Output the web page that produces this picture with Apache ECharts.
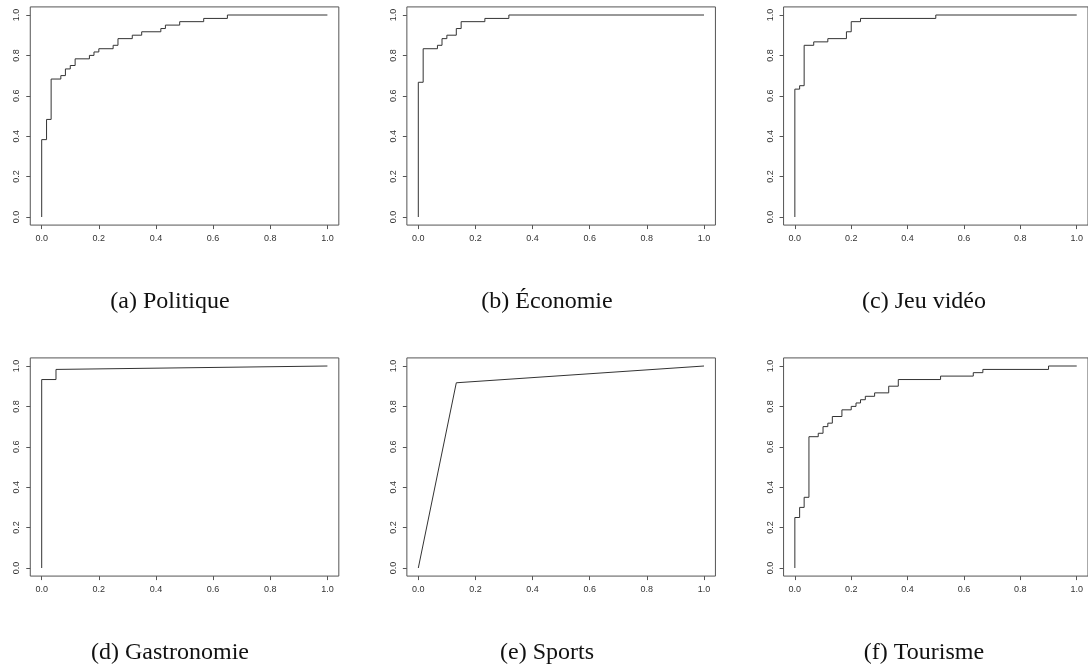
<!DOCTYPE html>
<html>
<head>
<meta charset="utf-8">
<title>Courbes ROC par catégorie</title>
<script src="https://cdn.jsdelivr.net/npm/echarts@6/dist/echarts.min.js"></script>
<style>
  html, body { margin: 0; padding: 0; background: #ffffff; }
  #chart { width: 1088px; height: 669px; }
</style>
</head>
<body>
<div id="chart"></div>
<script>
// ROC curves: false positive rate (fpr) vs true positive rate (tpr), one panel per category
const captions = ['(a) Politique', '(b) Économie', '(c) Jeu vidéo', '(d) Gastronomie', '(e) Sports', '(f) Tourisme'];

const fprPolitique = [0, 0, 0.017, 0.017, 0.033, 0.033, 0.067, 0.067, 0.083, 0.083, 0.1, 0.1, 0.117, 0.117, 0.167, 0.167, 0.183, 0.183, 0.2, 0.2, 0.25, 0.25, 0.267, 0.267, 0.317, 0.317, 0.35, 0.35, 0.417, 0.417, 0.433, 0.433, 0.483, 0.483, 0.567, 0.567, 0.65, 0.65, 1];
const tprPolitique = [0, 0.383, 0.383, 0.483, 0.483, 0.683, 0.683, 0.7, 0.7, 0.733, 0.733, 0.75, 0.75, 0.783, 0.783, 0.8, 0.8, 0.817, 0.817, 0.833, 0.833, 0.85, 0.85, 0.883, 0.883, 0.9, 0.9, 0.917, 0.917, 0.933, 0.933, 0.95, 0.95, 0.967, 0.967, 0.983, 0.983, 1, 1];

const fprEconomie = [0, 0, 0.017, 0.017, 0.067, 0.067, 0.083, 0.083, 0.1, 0.1, 0.133, 0.133, 0.15, 0.15, 0.233, 0.233, 0.317, 0.317, 1];
const tprEconomie = [0, 0.667, 0.667, 0.833, 0.833, 0.85, 0.85, 0.883, 0.883, 0.9, 0.9, 0.933, 0.933, 0.967, 0.967, 0.983, 0.983, 1, 1];

const fprJeuVideo = [0, 0, 0.017, 0.017, 0.033, 0.033, 0.067, 0.067, 0.117, 0.117, 0.183, 0.183, 0.2, 0.2, 0.233, 0.233, 0.5, 0.5, 1];
const tprJeuVideo = [0, 0.633, 0.633, 0.65, 0.65, 0.85, 0.85, 0.867, 0.867, 0.883, 0.883, 0.917, 0.917, 0.967, 0.967, 0.983, 0.983, 1, 1];

const fprGastronomie = [0, 0, 0.05, 0.05, 1];
const tprGastronomie = [0, 0.933, 0.933, 0.983, 1];

const fprSports = [0, 0.133, 1];
const tprSports = [0, 0.917, 1];

const fprTourisme = [0, 0, 0.017, 0.017, 0.033, 0.033, 0.05, 0.05, 0.083, 0.083, 0.1, 0.1, 0.117, 0.117, 0.133, 0.133, 0.167, 0.167, 0.2, 0.2, 0.217, 0.217, 0.233, 0.233, 0.25, 0.25, 0.283, 0.283, 0.333, 0.333, 0.367, 0.367, 0.517, 0.517, 0.633, 0.633, 0.667, 0.667, 0.9, 0.9, 1];
const tprTourisme = [0, 0.25, 0.25, 0.3, 0.3, 0.35, 0.35, 0.65, 0.65, 0.667, 0.667, 0.7, 0.7, 0.717, 0.717, 0.75, 0.75, 0.783, 0.783, 0.8, 0.8, 0.817, 0.817, 0.833, 0.833, 0.85, 0.85, 0.867, 0.867, 0.9, 0.9, 0.933, 0.933, 0.95, 0.95, 0.967, 0.967, 0.983, 0.983, 1, 1];

const tickValues = [0, 0.2, 0.4, 0.6, 0.8, 1.0];

const curves = [
  [fprPolitique, tprPolitique],
  [fprEconomie, tprEconomie],
  [fprJeuVideo, tprJeuVideo],
  [fprGastronomie, tprGastronomie],
  [fprSports, tprSports],
  [fprTourisme, tprTourisme]
];

// panel geometry: pixel position of value 0 (x) and value 1 (y), with the 4% padding around the data range
const colX0 = [41.7, 418.3, 795];
const rowY1 = [15, 366];
const unitX = 285.7;
const unitY = 202;
const pad = 0.04;
const captionX = [170, 547, 924];
const captionY = [302, 653];

const grids = [], xAxes = [], yAxes = [], series = [], graphics = [];

curves.forEach(function (c, i) {
  const col = i % 3, row = Math.floor(i / 3);
  grids.push({
    left: colX0[col] - pad * unitX,
    top: rowY1[row] - pad * unitY,
    width: (1 + 2 * pad) * unitX,
    height: (1 + 2 * pad) * unitY,
    show: true,
    borderColor: '#555',
    borderWidth: 1,
    backgroundColor: 'transparent'
  });
  const axisCommon = {
    type: 'value',
    gridIndex: i,
    min: -pad,
    max: 1 + pad,
    axisLine: { show: false, onZero: false },
    splitLine: { show: false },
    axisTick: { show: true, inside: false, length: 4, customValues: tickValues, lineStyle: { color: '#555', width: 1 } },
    axisLabel: {
      customValues: tickValues,
      formatter: function (v) { return v.toFixed(1); },
      fontFamily: 'Liberation Sans',
      fontSize: 9,
      color: '#333'
    }
  };
  xAxes.push(Object.assign({}, axisCommon, {
    position: 'bottom',
    axisLabel: Object.assign({}, axisCommon.axisLabel, { margin: 9 })
  }));
  yAxes.push(Object.assign({}, axisCommon, {
    position: 'left',
    axisLabel: Object.assign({}, axisCommon.axisLabel, { margin: 9, rotate: 90 })
  }));
  series.push({
    type: 'line',
    xAxisIndex: i,
    yAxisIndex: i,
    data: c[0].map(function (x, k) { return [x, c[1][k]]; }),
    showSymbol: false,
    symbol: 'none',
    lineStyle: { color: '#333', width: 1 },
    silent: true
  });
  graphics.push({
    type: 'text',
    x: captionX[col],
    y: captionY[row],
    style: {
      text: captions[i],
      fontFamily: 'Liberation Serif',
      fontSize: 24,
      fill: '#111',
      textAlign: 'center',
      textVerticalAlign: 'middle'
    }
  });
});

const chart = echarts.init(document.getElementById('chart'), null, { renderer: 'canvas' });
chart.setOption({
  animation: false,
  backgroundColor: '#ffffff',
  grid: grids,
  xAxis: xAxes,
  yAxis: yAxes,
  series: series,
  graphic: graphics
});
</script>
</body>
</html>
